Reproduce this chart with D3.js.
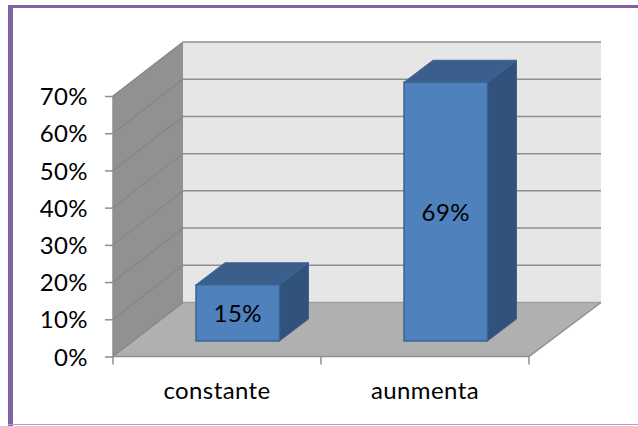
<!DOCTYPE html>
<html>
<head>
<meta charset="utf-8">
<script src="https://cdn.jsdelivr.net/npm/d3@7/dist/d3.min.js"></script>
<style>
html,body{margin:0;padding:0;background:#fff}
svg{display:block}
text{font-family:Lato,"Open Sans",sans-serif;fill:#000;letter-spacing:0.4px}
</style>
</head>
<body>
<script>
const categories = ["constante", "aunmenta"];
const barValues = [15, 69];
const barLabels = ["15%", "69%"];
const axisTicks = [0, 10, 20, 30, 40, 50, 60, 70];

const W = 638, H = 426;
const depthX = 70, depthY = -54;
const barDepthX = 29, barDepthY = -22;
const floorLeft = 113, floorRight = 529, floorY = 356.5, topY = 96;
const barBaseY = 341, barShift = 20.75, backRight = 601;
const fontSize = "24px";

const svg = d3.select("body").append("svg").attr("width", W).attr("height", H);

const x = d3.scaleBand().domain(categories).range([floorLeft, floorRight]);
const y = d3.scaleLinear().domain([0, 70]).range([floorY, topY]);
const yBar = d3.scaleLinear().domain([0, 70]).range([barBaseY, barBaseY - 262.5]);
const barW = 83.5;
const pct = d => d + "%";

// frame
svg.append("rect").attr("x", 8).attr("y", 5).attr("width", 5).attr("height", 421).attr("fill", "#8064a2");
svg.append("rect").attr("x", 8).attr("y", 5).attr("width", 630).attr("height", 3).attr("fill", "#8064a2");
svg.append("rect").attr("x", 8).attr("y", 424).attr("width", 630).attr("height", 1).attr("fill", "#b3a2c7");

const poly = (pts, fill) => svg.append("polygon")
  .attr("points", pts.map(p => p.join(",")).join(" ")).attr("fill", fill);

const right = floorRight, bt = y(0), tp = y(70), backLeft = floorLeft + depthX;
// back wall
poly([[backLeft, tp + depthY], [backRight, tp + depthY], [backRight, bt + depthY], [backLeft, bt + depthY]], "#e6e6e6");
// side wall
poly([[floorLeft, tp], [backLeft, tp + depthY], [backLeft, bt + depthY], [floorLeft, bt]], "#919191");
// floor
poly([[floorLeft, bt], [backLeft, bt + depthY], [backRight, bt + depthY], [right, bt]], "#b0b0b0");

// gridlines
const grid = svg.append("g").attr("fill", "none").attr("stroke-width", 1.5);
grid.selectAll("path.back").data(axisTicks).join("path").attr("class", "back")
  .attr("stroke", d => d === 0 ? "#a0a0a0" : "#8e8e8e")
  .attr("d", d => `M${backLeft},${y(d) + depthY}H${backRight}`);
grid.selectAll("path.side").data(axisTicks).join("path").attr("class", "side")
  .attr("stroke", "#858585").attr("stroke-width", 1.2)
  .attr("d", d => `M${floorLeft},${y(d)}L${backLeft},${y(d) + depthY}`);
svg.append("path").attr("fill", "none").attr("stroke", "#8e8e8e").attr("stroke-width", 1.5)
  .attr("d", `M${floorLeft},${tp}V${bt}H${right}L${backRight},${bt + depthY}`);

// axes
const yAxis = d3.axisLeft(y).tickValues(axisTicks).tickFormat(pct).tickSize(8).tickPadding(17);
const gy = svg.append("g").attr("transform", `translate(${floorLeft},0)`).call(yAxis);
gy.select(".domain").remove();
gy.selectAll("line").attr("stroke", "#8e8e8e").attr("stroke-width", 1.5);
gy.selectAll("text").style("font-size", fontSize).attr("fill", "#000").attr("dy", "0.36em");

const xEdges = [floorLeft, (floorLeft + floorRight) / 2, floorRight];
svg.append("g").selectAll("line").data(xEdges).join("line")
  .attr("x1", d => d).attr("x2", d => d).attr("y1", bt).attr("y2", bt + 8)
  .attr("stroke", "#8e8e8e").attr("stroke-width", 1.5);
svg.append("g").selectAll("text").data(categories).join("text")
  .attr("x", d => x(d) + x.bandwidth() / 2).attr("y", 399)
  .attr("text-anchor", "middle").style("font-size", fontSize).text(d => d);

// bars
const bars = svg.append("g").selectAll("g").data(categories).join("g");
bars.each(function (c, i) {
  const g = d3.select(this);
  const x0 = x(c) + x.bandwidth() / 2 - barW / 2 + barShift, x1 = x0 + barW;
  const yt = yBar(barValues[i]), yb = yBar(0);
  const pg = (pts, f) => g.append("polygon").attr("points", pts.map(p => p.join(",")).join(" "))
    .attr("fill", f).attr("stroke", "#3b6496").attr("stroke-width", 1).attr("stroke-linejoin", "round");
  pg([[x1, yt], [x1 + barDepthX, yt + barDepthY], [x1 + barDepthX, yb + barDepthY], [x1, yb]], "#31527a");
  pg([[x0, yt], [x0 + barDepthX, yt + barDepthY], [x1 + barDepthX, yt + barDepthY], [x1, yt]], "#3a5f8d");
  g.append("rect").attr("x", x0).attr("y", yt).attr("width", barW).attr("height", yb - yt)
    .attr("fill", "#4f81bd").attr("stroke", "#3b6496").attr("stroke-width", 1.5);
  g.append("text").attr("x", (x0 + x1) / 2).attr("y", (yt + yb) / 2 + 9)
    .attr("text-anchor", "middle").style("font-size", fontSize).text(barLabels[i]);
});
</script>
</body>
</html>
